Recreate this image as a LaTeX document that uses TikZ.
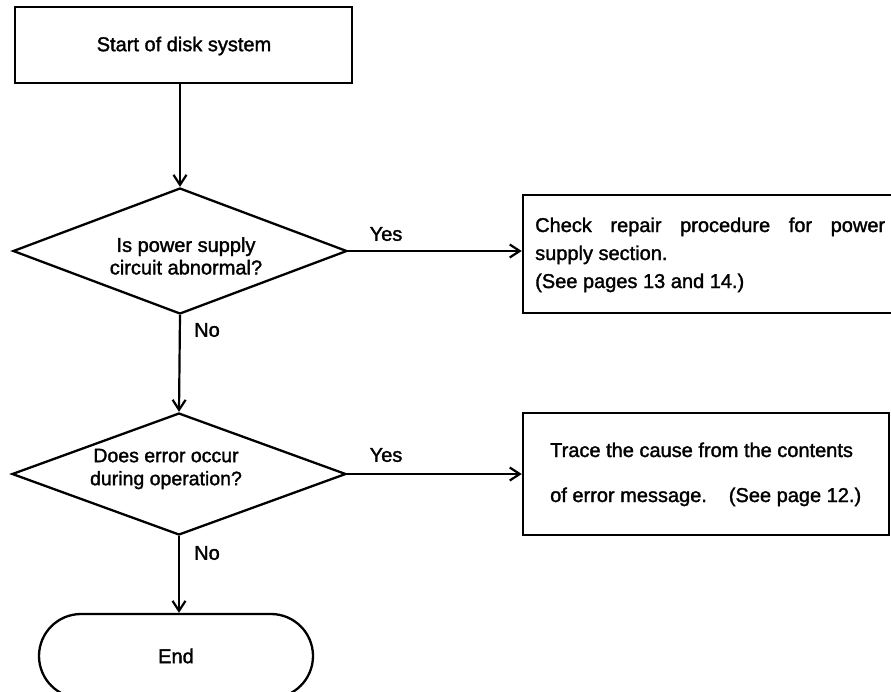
\documentclass[tikz,border=0pt]{standalone}
\usepackage{fontspec}
\setmainfont{Liberation Sans}[FakeBold=1.6]
\usetikzlibrary{shapes.geometric,arrows.meta}
\begin{document}
\begin{tikzpicture}[x=1pt,y=-1pt,
  every node/.style={font=\fontsize{20}{22.5}\selectfont},
  boxnode/.style={draw,line width=2.5pt,inner sep=0pt},
  decision/.style={draw,diamond,line width=2.3pt,inner sep=0pt},
  terminal/.style={draw,line width=2.3pt,rounded corners=42pt,inner sep=0pt},
  txt/.style={inner sep=0pt},
  flow/.style={line width=2.2pt,-{Straight Barb[length=10pt,width=13pt]}}]
\useasboundingbox (0,0) rectangle (891,691);
\node[boxnode,minimum width=337pt,minimum height=76pt] (start) at (183.5,45) {};
\node[txt] (tstart) at (184,46) {Start of disk system};
\node[decision,minimum width=334pt,minimum height=126pt] (d1) at (180,251) {};
\node[txt,align=center] (td1) at (186,256) {Is power supply\\circuit abnormal?};
\node[decision,minimum width=334pt,minimum height=122pt] (d2) at (179,474) {};
\node[txt,align=center,font=\fontsize{19.5}{23}\selectfont] (td2) at (166,469) {Does error occur\\during operation?};
\node[boxnode,minimum width=372pt,minimum height=118pt] (b1) at (709,254) {};
\node[txt,anchor=base west] (b1a) at (535,232) {\hbox to 350pt{Check\hfill repair\hfill procedure\hfill for\hfill power}};
\node[txt,anchor=base west] (b1b) at (535,260) {supply section.};
\node[txt,anchor=base west] (b1c) at (535,288) {(See pages 13 and 14.)};
\node[boxnode,minimum width=366pt,minimum height=122pt] (b2) at (706,474) {};
\node[txt,anchor=base west] (b2a) at (550,457) {\hbox to 313pt{Trace the cause from the contents\hfil}};
\node[txt,anchor=base west] (b2b) at (550,502) {\hbox to 311pt{of error message.\hfill(See page 12.)}};
\node[terminal,minimum width=274pt,minimum height=84pt] (end) at (176,656) {};
\node[txt] (tend) at (176,656) {End};
\node[txt] (yes1) at (386,234) {Yes};
\node[txt] (yes2) at (386,455) {Yes};
\node[txt] (no1) at (207,330) {No};
\node[txt] (no2) at (207,553) {No};
\draw[flow] (start.south -| d1.north) -- (d1.north);
\draw[flow] (d1.east) -- (d1.east -| b1.west);
\draw[flow] (d1.south) -- (d2.north);
\draw[flow] (d2.east) -- (d2.east -| b2.west);
\draw[flow] (d2.south) -- (d2.south |- end.north);
\end{tikzpicture}
\end{document}
